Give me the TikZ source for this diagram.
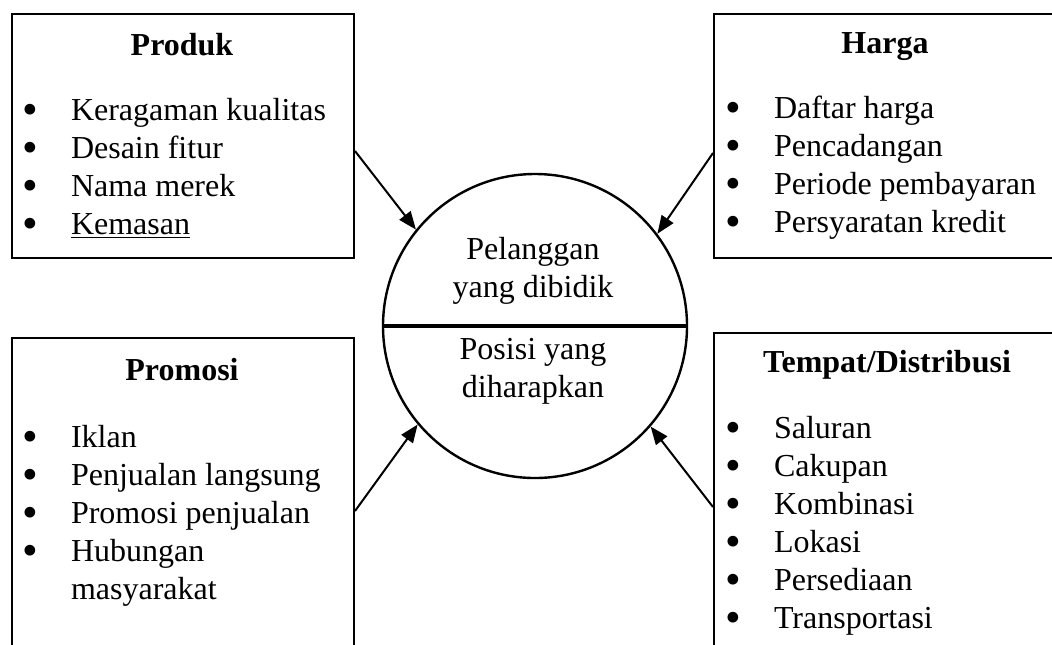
\documentclass[tikz,border=0pt]{standalone}
\usepackage{graphicx}
\usepackage{fontspec}
\setmainfont{Liberation Serif}
\usetikzlibrary{arrows.meta}

\newcommand{\butir}{\makebox[23.3pt][l]{\hspace*{-1pt}\smash{\raisebox{-2.4pt}{\scalebox{1.4}{\textbullet}}}}}

\begin{document}
\begin{tikzpicture}[x=0.5pt,y=-0.5pt,line width=1pt,
    kotak/.style={draw,rectangle,anchor=north west,inner sep=0pt},
    judul/.style={font=\fontsize{16}{19}\selectfont\bfseries,anchor=base,inner sep=0pt},
    daftar/.style={font=\fontsize{16}{19}\selectfont,align=left,anchor=base west,inner sep=0pt},
    isi/.style={font=\fontsize{16}{19}\selectfont,align=center,anchor=base,inner sep=0pt},
    panah/.style={-{Triangle[length=9pt,width=7pt]}}]
  \clip (0,0) rectangle (1052,644);

  \node[kotak,minimum width=171pt,minimum height=122pt] (produk) at (11,13) {};
  \node[kotak,minimum width=173.5pt,minimum height=122pt] (harga) at (713,13) {};
  \node[kotak,minimum width=171pt,minimum height=161.5pt] (promosi) at (11,337) {};
  \node[kotak,minimum width=173.5pt,minimum height=164pt] (tempat) at (713,332) {};

  \node[judul] (judulproduk) at (182,55) {Produk};
  \node[judul] (judulharga) at (885,53) {Harga};
  \node[judul] (judulpromosi) at (182,380) {Promosi};
  \node[judul] (judultempat) at (887,372) {Tempat/Distribusi};

  \node[daftar] (isiproduk) at (23.4,234) {\butir Keragaman kualitas\\ \butir Desain fitur\\
    \butir Nama merek\\ \butir \underline{Kemasan}};
  \node[daftar] (isiharga) at (726.4,232) {\butir Daftar harga\\ \butir Pencadangan\\
    \butir Periode pembayaran\\ \butir Persyaratan kredit};
  \node[daftar] (isipromosi) at (23.4,599) {\butir Iklan\\ \butir Penjualan langsung\\
    \butir Promosi penjualan\\ \butir Hubungan\\ \hspace*{23.3pt}masyarakat};
  \node[daftar] (isitempat) at (726.4,628) {\butir Saluran\\ \butir Cakupan\\ \butir Kombinasi\\
    \butir Lokasi\\ \butir Persediaan\\ \butir Transportasi};

  \node[draw,circle,line width=1.2pt,minimum size=152pt,inner sep=0pt] (sasaran) at (535,326) {};
  \draw[line width=2pt] (sasaran.west) -- (sasaran.east);
  \node[isi] (pelanggan) at (533,297) {Pelanggan\\yang dibidik};
  \node[isi] (posisi) at (533,397) {Posisi yang\\diharapkan};

  \draw[panah] ([yshift=-7.5pt]produk.east) -- (sasaran.141.5);
  \draw[panah] ([yshift=-8.5pt]harga.west) -- (sasaran.37.8);
  \draw[panah] ([yshift=-5.75pt]promosi.east) -- (sasaran.220.8);
  \draw[panah] ([yshift=-5pt]tempat.west) -- (sasaran.319.8);
\end{tikzpicture}
\end{document}
